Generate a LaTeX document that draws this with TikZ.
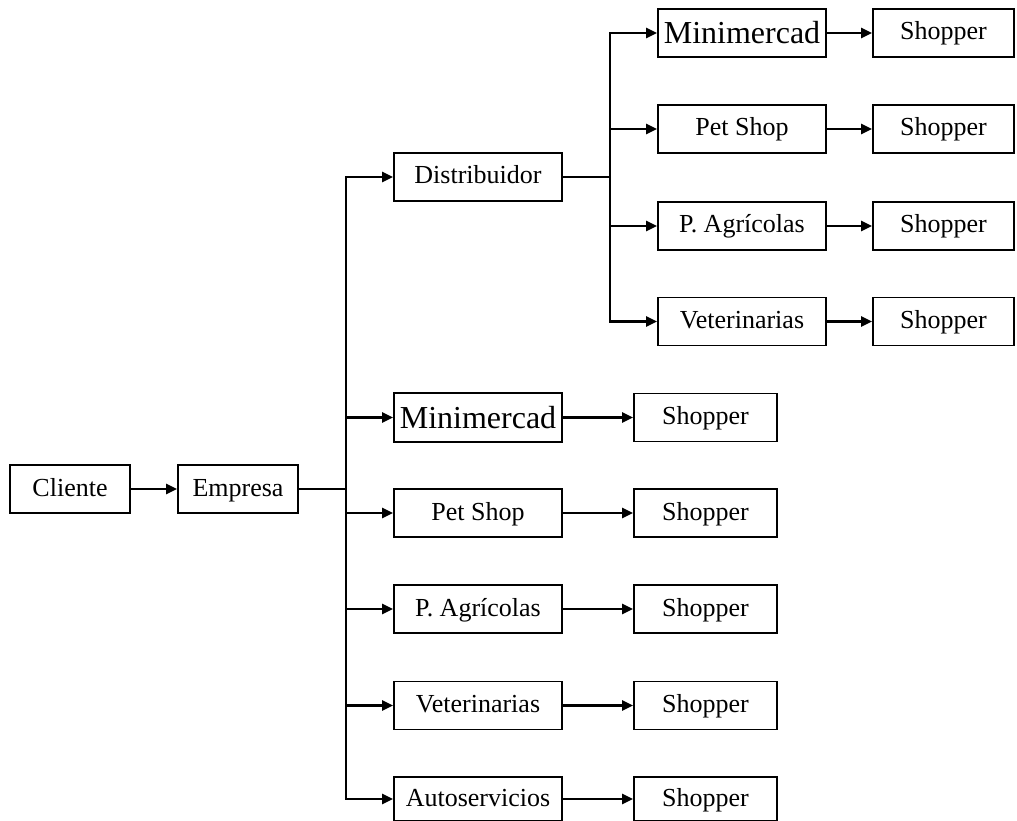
\documentclass[tikz,border=0pt]{standalone}
\usepackage{fontspec}
\setmainfont{Liberation Serif}
\usetikzlibrary{arrows.meta}
\begin{document}
\begin{tikzpicture}[x=1pt,y=-1pt,
  box/.style={draw,line width=1.8pt,inner sep=0pt,minimum height=48pt,text height=19pt,text depth=5pt,font=\fontsize{26}{28}\selectfont},
  big/.style={font=\fontsize{32}{34}\selectfont,text height=25pt,text depth=3pt},
  conn/.style={line width=2.2pt},
  arr/.style={conn,-{Triangle[length=11pt,width=10pt]}}]
\useasboundingbox[fill=white] (0,0) rectangle (1017,821);
% left chain
\node[box,minimum width=120pt] (cli) at (70,489) {Cliente};
\node[box,minimum width=120pt] (emp) at (238,489) {Empresa};
% middle column
\node[box,minimum width=168pt] (dist) at (478,177) {Distribuidor};
\node[box,big,minimum width=168pt,minimum height=49pt] (mini) at (478,417.5) {Minimercad};
\node[box,minimum width=168pt] (pet) at (478,513) {Pet Shop};
\node[box,minimum width=168pt] (agr) at (478,609) {P. Agrícolas};
\node[box,minimum width=168pt] (vet) at (478,705.5) {Veterinarias};
\node[box,minimum width=168pt,minimum height=44pt] (aut) at (478,799) {Autoservicios};
% lower shoppers
\node[box,minimum width=143pt] (s1) at (705.5,417.5) {Shopper};
\node[box,minimum width=143pt] (s2) at (705.5,513) {Shopper};
\node[box,minimum width=143pt] (s3) at (705.5,609) {Shopper};
\node[box,minimum width=143pt] (s4) at (705.5,705.5) {Shopper};
\node[box,minimum width=143pt,minimum height=44pt] (s5) at (705.5,799) {Shopper};
% upper branch
\node[box,big,minimum width=168pt] (umini) at (742,33) {Minimercad};
\node[box,minimum width=168pt] (upet) at (742,129) {Pet Shop};
\node[box,minimum width=168pt] (uagr) at (742,226) {P. Agrícolas};
\node[box,minimum width=168pt] (uvet) at (742,321.5) {Veterinarias};
\node[box,minimum width=141pt] (us1) at (943.5,33) {Shopper};
\node[box,minimum width=141pt] (us2) at (943.5,129) {Shopper};
\node[box,minimum width=141pt] (us3) at (943.5,226) {Shopper};
\node[box,minimum width=141pt] (us4) at (943.5,321.5) {Shopper};
% junctions
\coordinate (j1) at (346,489);
\coordinate (j2) at (610,177);
% connectors
\draw[arr] (cli) -- (emp);
\draw[conn] (emp.east) -- (j1);
\draw[arr] (j1) |- (dist.west);
\draw[arr] (j1) |- (aut.west);
\draw[arr] (j1 |- mini.west) -- (mini.west);
\draw[arr] (j1 |- pet.west) -- (pet.west);
\draw[arr] (j1 |- agr.west) -- (agr.west);
\draw[arr] (j1 |- vet.west) -- (vet.west);
\draw[conn] (dist.east) -- (j2);
\draw[arr] (j2) |- (umini.west);
\draw[arr] (j2) |- (uvet.west);
\draw[arr] (j2 |- upet.west) -- (upet.west);
\draw[arr] (j2 |- uagr.west) -- (uagr.west);
\draw[arr] (mini) -- (s1);
\draw[arr] (pet) -- (s2);
\draw[arr] (agr) -- (s3);
\draw[arr] (vet) -- (s4);
\draw[arr] (aut) -- (s5);
\draw[arr] (umini) -- (us1);
\draw[arr] (upet) -- (us2);
\draw[arr] (uagr) -- (us3);
\draw[arr] (uvet) -- (us4);
\end{tikzpicture}
\end{document}
